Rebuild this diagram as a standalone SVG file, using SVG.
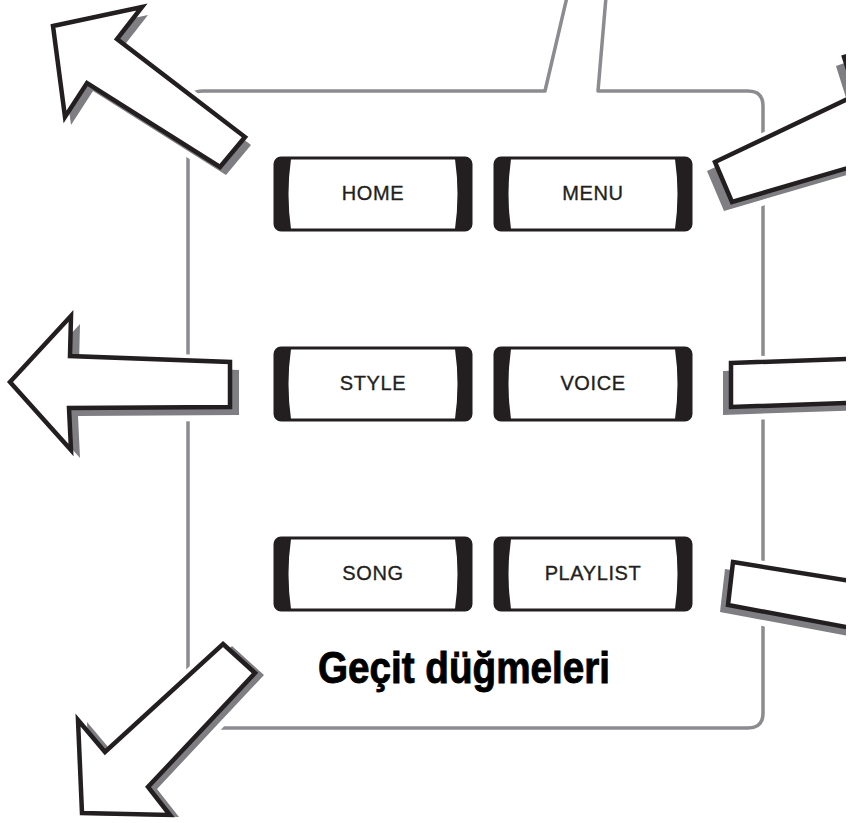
<svg xmlns="http://www.w3.org/2000/svg" width="858" height="823" viewBox="0 0 858 823">
<defs>
<style>
.box{fill:none;stroke:#8c8c90;stroke-width:3.5;stroke-linejoin:round}
.halo{fill:#fff;stroke:#fff;stroke-width:12;stroke-linejoin:round}
.shadow{fill:#7e7e83;stroke:none}
.arrow{fill:#fff;stroke:#231f20;stroke-width:4.5;stroke-linejoin:miter}
.btn{fill:#fff;stroke:#231f20;stroke-width:3}
.cap{fill:#231f20}
.lbl{font-family:"Liberation Sans",Arial,sans-serif;font-size:20px;letter-spacing:0.6px;fill:#231f20;stroke:#231f20;stroke-width:0.35;text-anchor:middle}
.title{font-family:"Liberation Sans Narrow","Liberation Sans",Arial,sans-serif;font-weight:bold;font-size:44px;fill:#000;stroke:#000;stroke-width:0.9}
</style>
<clipPath id="rclip"><rect x="0" y="0" width="846" height="823"/></clipPath>
<g id="btnshape">
<rect class="btn" x="0" y="0" width="196" height="72" rx="6"/>
<path class="cap" d="M0,6 Q0,0 6,0 L16,1 Q11,36 16,71 L6,72 Q0,72 0,66 Z"/>
<path class="cap" d="M196,6 Q196,0 190,0 L180,1 Q185,36 180,71 L190,72 Q196,72 196,66 Z"/>
</g>
</defs>
<rect width="858" height="823" fill="#fff"/>
<g id="callout">
<path class="box" d="M567,-3 L545,91 L203,91 Q188,91 188,106 L188,713 Q188,728 203,728 L748,728 Q763,728 763,713 L763,106 Q763,91 748,91 L598,91 L606,-3"/>
</g>
<g id="connectors">
<g id="arrow-tl">
<polygon class="halo" points="53,26 142,7 117,39 245,137 220,167 87,83 65,117"/>
<polygon class="halo" transform="translate(6,8)" points="53,26 142,7 117,39 245,137 220,167 87,83 65,117"/>
<polygon class="shadow" transform="translate(6,8)" points="53,26 142,7 117,39 245,137 220,167 87,83 65,117"/>
<polygon class="arrow" points="53,26 142,7 117,39 245,137 220,167 87,83 65,117"/>
</g>
<g id="arrow-style">
<polygon class="halo" points="10,382 71,316 70,356 230,362 230,407 69,408 71,450"/>
<polygon class="halo" transform="translate(9,8)" points="10,382 71,316 70,356 230,362 230,407 69,408 71,450"/>
<polygon class="shadow" transform="translate(9,8)" points="10,382 71,316 70,356 230,362 230,407 69,408 71,450"/>
<polygon class="arrow" points="10,382 71,316 70,356 230,362 230,407 69,408 71,450"/>
</g>
<g id="arrow-bl">
<polygon class="halo" points="223,644 255,673 148,787 170,815 82,813 78,720 105,752"/>
<polygon class="halo" transform="translate(9,2)" points="223,644 255,673 148,787 170,815 82,813 78,720 105,752"/>
<polygon class="shadow" transform="translate(9,2)" points="223,644 255,673 148,787 170,815 82,813 78,720 105,752"/>
<polygon class="arrow" points="223,644 255,673 148,787 170,815 82,813 78,720 105,752"/>
</g>
<g clip-path="url(#rclip)">
<g id="arrow-menu">
<polygon class="halo" points="715,162 856,95 844,57 980,10 960,135 732,202"/>
<polygon class="halo" transform="translate(-8,9)" points="715,162 856,95 844,57 980,10 960,135 732,202"/>
<polygon class="shadow" transform="translate(-8,9)" points="715,162 856,95 844,57 980,10 960,135 732,202"/>
<polygon class="arrow" points="715,162 856,95 844,57 980,10 960,135 732,202"/>
</g>
<g id="arrow-voice">
<polygon class="halo" points="731,363 900,357 900,401 731,407"/>
<polygon class="halo" transform="translate(-8,8)" points="731,363 900,357 900,401 731,407"/>
<polygon class="shadow" transform="translate(-8,8)" points="731,363 900,357 900,401 731,407"/>
<polygon class="arrow" points="731,363 900,357 900,401 731,407"/>
</g>
<g id="arrow-playlist">
<polygon class="halo" points="733,562 900,589 900,637 728,605"/>
<polygon class="halo" transform="translate(-8,7)" points="733,562 900,589 900,637 728,605"/>
<polygon class="shadow" transform="translate(-8,7)" points="733,562 900,589 900,637 728,605"/>
<polygon class="arrow" points="733,562 900,589 900,637 728,605"/>
</g>
</g>
</g>
<g id="home"><use href="#btnshape" x="275" y="158"/><text class="lbl" x="373" y="200">HOME</text></g>
<g id="menu"><use href="#btnshape" x="495" y="158"/><text class="lbl" x="593" y="200">MENU</text></g>
<g id="style"><use href="#btnshape" x="275" y="348"/><text class="lbl" x="373" y="390">STYLE</text></g>
<g id="voice"><use href="#btnshape" x="495" y="348"/><text class="lbl" x="593" y="390">VOICE</text></g>
<g id="song"><use href="#btnshape" x="275" y="538"/><text class="lbl" x="373" y="580">SONG</text></g>
<g id="playlist"><use href="#btnshape" x="495" y="538"/><text class="lbl" x="593" y="580">PLAYLIST</text></g>
<g id="title"><text class="title" x="318" y="683" textLength="292" lengthAdjust="spacingAndGlyphs">Geçit düğmeleri</text></g>
</svg>
